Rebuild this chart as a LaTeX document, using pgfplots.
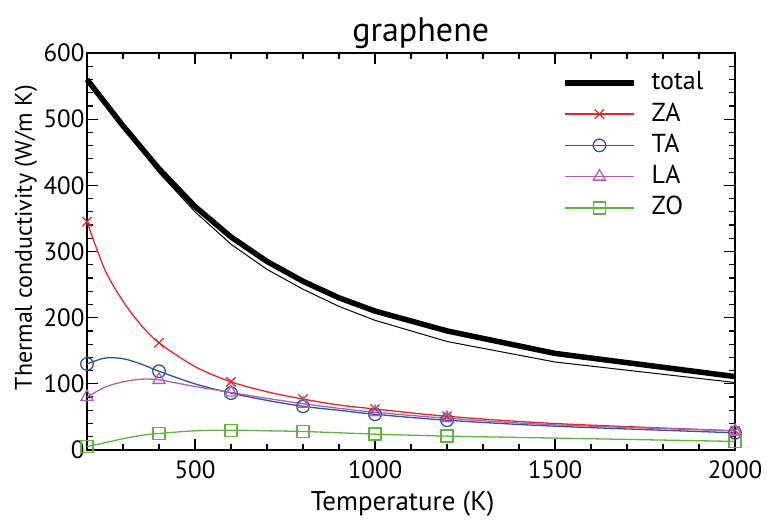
\documentclass[border=0pt]{standalone}
\usepackage{pgfplots}
\pgfplotsset{compat=1.18}
\usepackage{fontspec}
\setmainfont{PT Sans}
\definecolor{zacol}{RGB}{228,38,42}
\definecolor{tacol}{RGB}{48,82,160}
\definecolor{lacol}{RGB}{176,96,176}
\definecolor{zocol}{RGB}{96,180,64}

% total thermal conductivity (thick) and its companion curve (thin)
\pgfplotstableread{
T     k
200   560
300   490
400   425
500   368
600   322
700   285
800   255
900   230
1000  210
1200  180
1500  146
2000  111
}\totaldata
\pgfplotstableread{
T     k
200   560
300   488
400   419
500   360
600   311
700   273
800   243
900   217
1000  196
1200  164
1500  133
2000  102
}\totalthin
% branch contributions
\pgfplotstableread{
T     ZA   TA   LA   ZO
200   345  130  80   5
250   272  139  95   11
300   225  138  103  17
350   189  130  107  22
400   162  119  106  25
500   126  100  96   29
600   103  86   87   30
700   88   75   78   29
800   77   66   70   28
900   68   60   63   26
1000  62   54   57   24
1200  51   45   48   21
1500  40   36   38   18
2000  29   26   29   13
}\branches

\begin{document}
\begin{tikzpicture}
\useasboundingbox (-87pt,-75pt) rectangle (680pt,450pt);
\begin{axis}[
  scale only axis, width=648pt, height=397pt,
  xmin=200, xmax=2000, ymin=0, ymax=600,
  xtick={500,1000,1500,2000},
  minor xtick={300,400,600,700,800,900,1100,1200,1300,1400,1600,1700,1800,1900},
  ytick={0,100,...,600}, minor y tick num=4,
  tick align=inside,
  major tick length=11pt, minor tick length=6pt,
  axis line style={line width=1.4pt},
  every tick/.style={black, line width=1.2pt},
  /pgf/number format/assume math mode=true,
  /pgf/number format/1000 sep={},
  tick label style={font=\fontsize{25}{30}\selectfont},
  xticklabel style={yshift=-7pt},
  yticklabel style={xshift=1pt},
  xlabel={Temperature (K)},
  ylabel={Thermal conductivity (W/m K)},
  xlabel style={font=\fontsize{27}{32}\selectfont,
    at={(axis description cs:0.487,0)}, anchor=base, yshift=-60pt},
  ylabel style={font=\fontsize{24}{29}\selectfont,
    at={(axis description cs:-0.0849,0.535)}, anchor=base},
  title={graphene},
  title style={font=\fontsize{34}{40}\selectfont,
    at={(axis description cs:0.515,1)}, anchor=base, yshift=6pt},
  clip=false,
  legend style={at={(0.733,0.958)}, anchor=north west, draw=none, fill=none,
    inner sep=0pt, font=\fontsize{26}{31}\selectfont, row sep=5.25pt,
    column sep=15pt,
    nodes={inner sep=0pt, text height=20pt, text depth=6pt}},
  legend cell align=left,
  legend image code/.code={%
    \draw[no marks] (0pt,0pt) -- (69pt,0pt);
    \draw[only marks] plot coordinates {(34.5pt,0pt)};},
  every axis plot/.append style={mark options={solid, line width=1.3pt}},
]
\addplot[black, line width=5.5pt, no marks] table[x=T,y=k] {\totaldata};
\addlegendentry{total}
\addplot[black, line width=1pt, no marks, forget plot] table[x=T,y=k] {\totalthin};
\addplot[zacol, line width=1.3pt, smooth, mark=x, mark size=6.5pt,
  mark indices={1,5,7,9,11,12,14}] table[x=T,y=ZA] {\branches};
\addlegendentry{ZA}
\addplot[tacol, line width=1.3pt, smooth, mark=o, mark size=6.3pt,
  mark indices={1,5,7,9,11,12,14}] table[x=T,y=TA] {\branches};
\addlegendentry{TA}
\addplot[lacol, line width=1.3pt, smooth, mark=triangle, mark size=7pt,
  mark indices={1,5,7,9,11,12,14}] table[x=T,y=LA] {\branches};
\addlegendentry{LA}
\addplot[zocol, line width=1.3pt, smooth, mark=square, mark size=6pt,
  mark indices={1,5,7,9,11,12,14}] table[x=T,y=ZO] {\branches};
\addlegendentry{ZO}
\end{axis}
\end{tikzpicture}
\end{document}
